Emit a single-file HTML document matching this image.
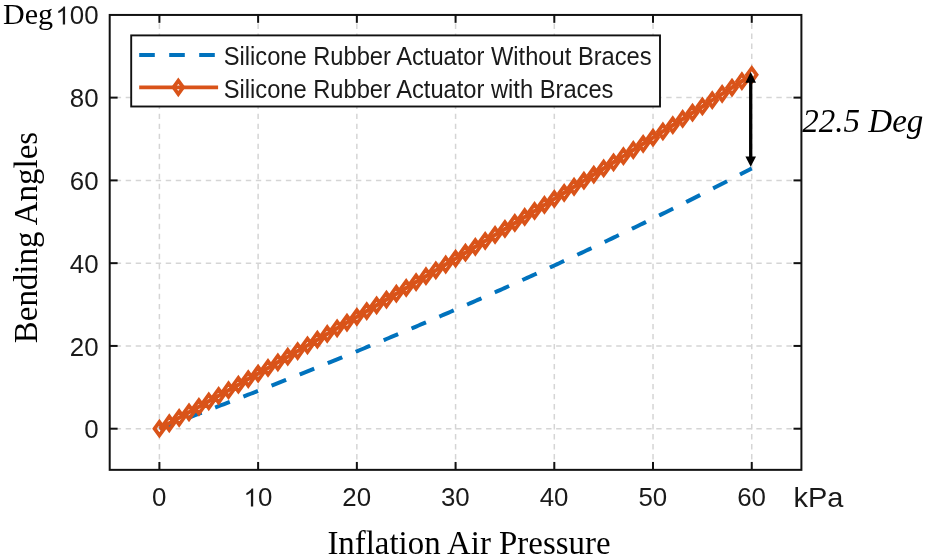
<!DOCTYPE html>
<html><head><meta charset="utf-8"><title>Bending angle vs inflation air pressure</title>
<style>
html,body{margin:0;padding:0;background:#fff;}
svg{display:block;will-change:transform;}
text{font-family:"Liberation Sans",sans-serif;fill:#1a1a1a;}
.serif{font-family:"Liberation Serif",serif;fill:#000;}
</style></head><body>
<svg width="926" height="557" viewBox="0 0 926 557">
<rect x="0" y="0" width="926" height="557" fill="#ffffff"/>

<g stroke="#d5d5d5" stroke-width="1.5" stroke-dasharray="5.4 4.61" fill="none">
<line x1="159.40" y1="14.95" x2="159.40" y2="469.85" stroke-dashoffset="1.36"/>
<line x1="258.12" y1="14.95" x2="258.12" y2="469.85" stroke-dashoffset="1.36"/>
<line x1="356.85" y1="14.95" x2="356.85" y2="469.85" stroke-dashoffset="1.36"/>
<line x1="455.58" y1="14.95" x2="455.58" y2="469.85" stroke-dashoffset="1.36"/>
<line x1="554.30" y1="14.95" x2="554.30" y2="469.85" stroke-dashoffset="1.36"/>
<line x1="653.02" y1="14.95" x2="653.02" y2="469.85" stroke-dashoffset="1.36"/>
<line x1="751.75" y1="14.95" x2="751.75" y2="469.85" stroke-dashoffset="1.36"/>
<line x1="109.7" y1="428.70" x2="801.4" y2="428.70" stroke-dashoffset="4.02"/>
<line x1="109.7" y1="345.93" x2="801.4" y2="345.93" stroke-dashoffset="4.02"/>
<line x1="109.7" y1="263.16" x2="801.4" y2="263.16" stroke-dashoffset="4.02"/>
<line x1="109.7" y1="180.39" x2="801.4" y2="180.39" stroke-dashoffset="4.02"/>
<line x1="109.7" y1="97.62" x2="801.4" y2="97.62" stroke-dashoffset="4.02"/>
</g>
<polyline points="751.75,168.37 749.28,169.66 746.81,170.96 744.35,172.25 741.88,173.54 739.41,174.82 736.94,176.11 734.47,177.39 732.00,178.67 729.54,179.95 727.07,181.22 724.60,182.50 722.13,183.77 719.66,185.04 717.20,186.30 714.73,187.57 712.26,188.83 709.79,190.09 707.32,191.35 704.86,192.60 702.39,193.86 699.92,195.11 697.45,196.36 694.98,197.61 692.51,198.85 690.05,200.10 687.58,201.34 685.11,202.58 682.64,203.82 680.17,205.05 677.71,206.29 675.24,207.52 672.77,208.75 670.30,209.97 667.83,211.20 665.37,212.42 662.90,213.64 660.43,214.86 657.96,216.08 655.49,217.29 653.02,218.51 650.56,219.72 648.09,220.93 645.62,222.14 643.15,223.34 640.68,224.54 638.22,225.75 635.75,226.95 633.28,228.14 630.81,229.34 628.34,230.53 625.88,231.72 623.41,232.91 620.94,234.10 618.47,235.29 616.00,236.47 613.54,237.65 611.07,238.83 608.60,240.01 606.13,241.19 603.66,242.36 601.19,243.54 598.73,244.71 596.26,245.88 593.79,247.04 591.32,248.21 588.85,249.37 586.39,250.53 583.92,251.69 581.45,252.85 578.98,254.01 576.51,255.16 574.05,256.31 571.58,257.46 569.11,258.61 566.64,259.76 564.17,260.90 561.70,262.05 559.24,263.19 556.77,264.33 554.30,265.47 551.83,266.60 549.36,267.74 546.90,268.87 544.43,270.00 541.96,271.13 539.49,272.26 537.02,273.39 534.56,274.51 532.09,275.63 529.62,276.75 527.15,277.87 524.68,278.99 522.21,280.10 519.75,281.22 517.28,282.33 514.81,283.44 512.34,284.55 509.87,285.66 507.41,286.76 504.94,287.87 502.47,288.97 500.00,290.07 497.53,291.17 495.07,292.27 492.60,293.36 490.13,294.46 487.66,295.55 485.19,296.64 482.72,297.73 480.26,298.82 477.79,299.90 475.32,300.99 472.85,302.07 470.38,303.15 467.92,304.23 465.45,305.31 462.98,306.39 460.51,307.46 458.04,308.54 455.58,309.61 453.11,310.68 450.64,311.75 448.17,312.81 445.70,313.88 443.23,314.94 440.77,316.01 438.30,317.07 435.83,318.13 433.36,319.19 430.89,320.24 428.43,321.30 425.96,322.35 423.49,323.41 421.02,324.46 418.55,325.51 416.09,326.55 413.62,327.60 411.15,328.65 408.68,329.69 406.21,330.73 403.74,331.77 401.28,332.81 398.81,333.85 396.34,334.89 393.87,335.92 391.40,336.96 388.94,337.99 386.47,339.02 384.00,340.05 381.53,341.08 379.06,342.10 376.60,343.13 374.13,344.15 371.66,345.18 369.19,346.20 366.72,347.22 364.25,348.24 361.79,349.25 359.32,350.27 356.85,351.29 354.38,352.30 351.91,353.31 349.45,354.32 346.98,355.33 344.51,356.34 342.04,357.35 339.57,358.35 337.11,359.36 334.64,360.36 332.17,361.36 329.70,362.36 327.23,363.36 324.76,364.36 322.30,365.36 319.83,366.35 317.36,367.35 314.89,368.34 312.42,369.33 309.96,370.33 307.49,371.32 305.02,372.30 302.55,373.29 300.08,374.28 297.62,375.26 295.15,376.25 292.68,377.23 290.21,378.21 287.74,379.19 285.27,380.17 282.81,381.15 280.34,382.12 277.87,383.10 275.40,384.07 272.93,385.05 270.47,386.02 268.00,386.99 265.53,387.96 263.06,388.93 260.59,389.90 258.12,390.86 255.66,391.83 253.19,392.79 250.72,393.76 248.25,394.72 245.78,395.68 243.32,396.64 240.85,397.60 238.38,398.56 235.91,399.52 233.44,400.47 230.98,401.43 228.51,402.38 226.04,403.33 223.57,404.29 221.10,405.24 218.63,406.19 216.17,407.14 213.70,408.08 211.23,409.03 208.76,409.98 206.29,410.92 203.83,411.87 201.36,412.81 198.89,413.75 196.42,414.69 193.95,415.63 191.49,416.57 189.02,417.51 186.55,418.45 184.08,419.38 181.61,420.32 179.15,421.25 176.68,422.19 174.21,423.12 171.74,424.05 169.27,424.98 166.80,425.91 164.34,426.84 161.87,427.77 159.40,428.70" fill="none" stroke="#0072BD" stroke-width="4" stroke-dasharray="15.7 14.54" stroke-dashoffset="2.45"/>
<polyline points="159.40,428.70 169.27,423.25 179.15,417.79 189.02,412.31 198.89,406.81 208.76,401.30 218.63,395.77 228.51,390.23 238.38,384.68 248.25,379.11 258.12,373.52 268.00,367.92 277.87,362.30 287.74,356.67 297.62,351.02 307.49,345.36 317.36,339.68 327.23,333.99 337.11,328.28 346.98,322.56 356.85,316.82 366.72,311.07 376.60,305.30 386.47,299.52 396.34,293.72 406.21,287.91 416.09,282.08 425.96,276.23 435.83,270.37 445.70,264.50 455.58,258.61 465.45,252.70 475.32,246.78 485.19,240.85 495.07,234.90 504.94,228.93 514.81,222.95 524.68,216.96 534.56,210.95 544.43,204.92 554.30,198.88 564.17,192.82 574.05,186.75 583.92,180.66 593.79,174.56 603.66,168.44 613.54,162.31 623.41,156.16 633.28,150.00 643.15,143.82 653.02,137.63 662.90,131.42 672.77,125.20 682.64,118.96 692.51,112.70 702.39,106.44 712.26,100.15 722.13,93.85 732.00,87.54 741.88,81.21 751.75,74.86" fill="none" stroke="#D95319" stroke-width="4.0" stroke-linejoin="round"/>
<path d="M154.54,428.70L159.40,421.98L164.26,428.70L159.40,435.42ZM164.41,423.25L169.27,416.53L174.13,423.25L169.27,429.97ZM174.28,417.79L179.15,411.07L184.01,417.79L179.15,424.51ZM184.16,412.31L189.02,405.59L193.88,412.31L189.02,419.03ZM194.03,406.81L198.89,400.09L203.75,406.81L198.89,413.53ZM203.90,401.30L208.76,394.58L213.62,401.30L208.76,408.02ZM213.77,395.77L218.63,389.05L223.50,395.77L218.63,402.49ZM223.65,390.23L228.51,383.51L233.37,390.23L228.51,396.95ZM233.52,384.68L238.38,377.96L243.24,384.68L238.38,391.40ZM243.39,379.11L248.25,372.39L253.11,379.11L248.25,385.83ZM253.26,373.52L258.12,366.80L262.99,373.52L258.12,380.24ZM263.14,367.92L268.00,361.20L272.86,367.92L268.00,374.64ZM273.01,362.30L277.87,355.58L282.73,362.30L277.87,369.02ZM282.88,356.67L287.74,349.95L292.60,356.67L287.74,363.39ZM292.75,351.02L297.62,344.30L302.48,351.02L297.62,357.74ZM302.63,345.36L307.49,338.64L312.35,345.36L307.49,352.08ZM312.50,339.68L317.36,332.96L322.22,339.68L317.36,346.40ZM322.37,333.99L327.23,327.27L332.09,333.99L327.23,340.71ZM332.25,328.28L337.11,321.56L341.97,328.28L337.11,335.00ZM342.12,322.56L346.98,315.84L351.84,322.56L346.98,329.28ZM351.99,316.82L356.85,310.10L361.71,316.82L356.85,323.54ZM361.86,311.07L366.72,304.35L371.58,311.07L366.72,317.79ZM371.74,305.30L376.60,298.58L381.46,305.30L376.60,312.02ZM381.61,299.52L386.47,292.80L391.33,299.52L386.47,306.24ZM391.48,293.72L396.34,287.00L401.20,293.72L396.34,300.44ZM401.35,287.91L406.21,281.19L411.07,287.91L406.21,294.63ZM411.23,282.08L416.09,275.36L420.95,282.08L416.09,288.80ZM421.10,276.23L425.96,269.51L430.82,276.23L425.96,282.95ZM430.97,270.37L435.83,263.65L440.69,270.37L435.83,277.09ZM440.84,264.50L445.70,257.78L450.56,264.50L445.70,271.22ZM450.72,258.61L455.58,251.89L460.44,258.61L455.58,265.33ZM460.59,252.70L465.45,245.98L470.31,252.70L465.45,259.42ZM470.46,246.78L475.32,240.06L480.18,246.78L475.32,253.50ZM480.33,240.85L485.19,234.13L490.05,240.85L485.19,247.57ZM490.21,234.90L495.07,228.18L499.93,234.90L495.07,241.62ZM500.08,228.93L504.94,222.21L509.80,228.93L504.94,235.65ZM509.95,222.95L514.81,216.23L519.67,222.95L514.81,229.67ZM519.82,216.96L524.68,210.24L529.54,216.96L524.68,223.68ZM529.70,210.95L534.56,204.23L539.42,210.95L534.56,217.67ZM539.57,204.92L544.43,198.20L549.29,204.92L544.43,211.64ZM549.44,198.88L554.30,192.16L559.16,198.88L554.30,205.60ZM559.31,192.82L564.17,186.10L569.03,192.82L564.17,199.54ZM569.19,186.75L574.05,180.03L578.91,186.75L574.05,193.47ZM579.06,180.66L583.92,173.94L588.78,180.66L583.92,187.38ZM588.93,174.56L593.79,167.84L598.65,174.56L593.79,181.28ZM598.80,168.44L603.66,161.72L608.52,168.44L603.66,175.16ZM608.68,162.31L613.54,155.59L618.40,162.31L613.54,169.03ZM618.55,156.16L623.41,149.44L628.27,156.16L623.41,162.88ZM628.42,150.00L633.28,143.28L638.14,150.00L633.28,156.72ZM638.29,143.82L643.15,137.10L648.01,143.82L643.15,150.54ZM648.16,137.63L653.02,130.91L657.88,137.63L653.02,144.35ZM658.04,131.42L662.90,124.70L667.76,131.42L662.90,138.14ZM667.91,125.20L672.77,118.48L677.63,125.20L672.77,131.92ZM677.78,118.96L682.64,112.24L687.50,118.96L682.64,125.68ZM687.65,112.70L692.51,105.98L697.38,112.70L692.51,119.42ZM697.53,106.44L702.39,99.72L707.25,106.44L702.39,113.16ZM707.40,100.15L712.26,93.43L717.12,100.15L712.26,106.87ZM717.27,93.85L722.13,87.13L726.99,93.85L722.13,100.57ZM727.14,87.54L732.00,80.82L736.87,87.54L732.00,94.26ZM737.02,81.21L741.88,74.49L746.74,81.21L741.88,87.93ZM746.89,74.86L751.75,68.14L756.61,74.86L751.75,81.58Z" fill="none" stroke="#D95319" stroke-width="3.7" stroke-linejoin="miter" stroke-miterlimit="10"/>
<g stroke="#111111" stroke-width="2" fill="none">
<rect x="109.7" y="14.95" width="691.70" height="454.90"/>
<line x1="159.40" y1="469.85" x2="159.40" y2="461.95"/>
<line x1="159.40" y1="14.95" x2="159.40" y2="22.85"/>
<line x1="258.12" y1="469.85" x2="258.12" y2="461.95"/>
<line x1="258.12" y1="14.95" x2="258.12" y2="22.85"/>
<line x1="356.85" y1="469.85" x2="356.85" y2="461.95"/>
<line x1="356.85" y1="14.95" x2="356.85" y2="22.85"/>
<line x1="455.58" y1="469.85" x2="455.58" y2="461.95"/>
<line x1="455.58" y1="14.95" x2="455.58" y2="22.85"/>
<line x1="554.30" y1="469.85" x2="554.30" y2="461.95"/>
<line x1="554.30" y1="14.95" x2="554.30" y2="22.85"/>
<line x1="653.02" y1="469.85" x2="653.02" y2="461.95"/>
<line x1="653.02" y1="14.95" x2="653.02" y2="22.85"/>
<line x1="751.75" y1="469.85" x2="751.75" y2="461.95"/>
<line x1="751.75" y1="14.95" x2="751.75" y2="22.85"/>
<line x1="109.7" y1="428.70" x2="117.60" y2="428.70"/>
<line x1="801.4" y1="428.70" x2="793.50" y2="428.70"/>
<line x1="109.7" y1="345.93" x2="117.60" y2="345.93"/>
<line x1="801.4" y1="345.93" x2="793.50" y2="345.93"/>
<line x1="109.7" y1="263.16" x2="117.60" y2="263.16"/>
<line x1="801.4" y1="263.16" x2="793.50" y2="263.16"/>
<line x1="109.7" y1="180.39" x2="117.60" y2="180.39"/>
<line x1="801.4" y1="180.39" x2="793.50" y2="180.39"/>
<line x1="109.7" y1="97.62" x2="117.60" y2="97.62"/>
<line x1="801.4" y1="97.62" x2="793.50" y2="97.62"/>
</g>
<g transform="translate(152.01 506.40) scale(1.035 1)" fill="#1a1a1a"><text x="0.000" y="0" font-size="25">0</text></g>
<g transform="translate(243.54 506.40) scale(1.035 1)" fill="#1a1a1a"><path transform="translate(0.000 0) scale(0.012207 -0.012207)" d="M763,0H583V1147Q518,1085 412.5,1023Q307,961 223,930V1104Q374,1175 487,1276Q600,1377 647,1472H763Z"/><text x="13.900" y="0" font-size="25">0</text></g>
<g transform="translate(342.26 506.40) scale(1.035 1)" fill="#1a1a1a"><text x="0.000" y="0" font-size="25">2</text><text x="13.900" y="0" font-size="25">0</text></g>
<g transform="translate(440.99 506.40) scale(1.035 1)" fill="#1a1a1a"><text x="0.000" y="0" font-size="25">3</text><text x="13.900" y="0" font-size="25">0</text></g>
<g transform="translate(539.71 506.40) scale(1.035 1)" fill="#1a1a1a"><text x="0.000" y="0" font-size="25">4</text><text x="13.900" y="0" font-size="25">0</text></g>
<g transform="translate(638.44 506.40) scale(1.035 1)" fill="#1a1a1a"><text x="0.000" y="0" font-size="25">5</text><text x="13.900" y="0" font-size="25">0</text></g>
<g transform="translate(737.16 506.40) scale(1.035 1)" fill="#1a1a1a"><text x="0.000" y="0" font-size="25">6</text><text x="13.900" y="0" font-size="25">0</text></g>
<g transform="translate(84.21 438.30) scale(1.035 1)" fill="#1a1a1a"><text x="0.000" y="0" font-size="25">0</text></g>
<g transform="translate(69.83 355.53) scale(1.035 1)" fill="#1a1a1a"><text x="0.000" y="0" font-size="25">2</text><text x="13.900" y="0" font-size="25">0</text></g>
<g transform="translate(69.83 272.76) scale(1.035 1)" fill="#1a1a1a"><text x="0.000" y="0" font-size="25">4</text><text x="13.900" y="0" font-size="25">0</text></g>
<g transform="translate(69.83 189.99) scale(1.035 1)" fill="#1a1a1a"><text x="0.000" y="0" font-size="25">6</text><text x="13.900" y="0" font-size="25">0</text></g>
<g transform="translate(69.83 107.22) scale(1.035 1)" fill="#1a1a1a"><text x="0.000" y="0" font-size="25">8</text><text x="13.900" y="0" font-size="25">0</text></g>
<g transform="translate(55.44 24.45) scale(1.035 1)" fill="#1a1a1a"><path transform="translate(0.000 0) scale(0.012207 -0.012207)" d="M763,0H583V1147Q518,1085 412.5,1023Q307,961 223,930V1104Q374,1175 487,1276Q600,1377 647,1472H763Z"/><text x="13.900" y="0" font-size="25">0</text><text x="27.800" y="0" font-size="25">0</text></g>
<text transform="translate(793.5 506.5) scale(1.074 1)" font-size="27">kPa</text>
<text class="serif" x="3" y="24.1" font-size="29.4" textLength="50" lengthAdjust="spacingAndGlyphs">Deg</text>
<text class="serif" x="327.4" y="553.5" font-size="34" textLength="283.1" lengthAdjust="spacingAndGlyphs">Inflation Air Pressure</text>
<text class="serif" transform="translate(37.1 343.2) rotate(-90)" font-size="34.3" textLength="211.3" lengthAdjust="spacingAndGlyphs">Bending Angles</text>
<text class="serif" x="802.3" y="131.7" font-size="34.7" font-style="italic" textLength="121" lengthAdjust="spacingAndGlyphs">22.5 Deg</text>
<line x1="750.7" y1="80.0" x2="750.7" y2="158.7" stroke="#000" stroke-width="3.3"/>
<path d="M750.7,72.0l-5.3,10.8h10.6z" fill="#000"/>
<path d="M750.7,166.7l-5.3,-10.2h10.6z" fill="#000"/>
<rect x="131.2" y="35.4" width="528.80" height="71.10" fill="#fff" stroke="#111111" stroke-width="1.9"/>
<line x1="139.2" y1="55.0" x2="218.1" y2="55.0" stroke="#0072BD" stroke-width="3.8" stroke-dasharray="15.6 14.4"/>
<line x1="139.2" y1="87.4" x2="218.1" y2="87.4" stroke="#D95319" stroke-width="3.8"/>
<path d="M173.44,87.35L178.30,80.63L183.16,87.35L178.30,94.07Z" fill="none" stroke="#D95319" stroke-width="3.7" stroke-miterlimit="10"/>
<text transform="translate(223.7 64.7) scale(0.954 1)" font-size="24.85" fill="#000">Silicone Rubber Actuator Without Braces</text>
<text transform="translate(223.7 97.6) scale(0.954 1)" font-size="24.85" fill="#000">Silicone Rubber Actuator with Braces</text>
</svg></body></html>
